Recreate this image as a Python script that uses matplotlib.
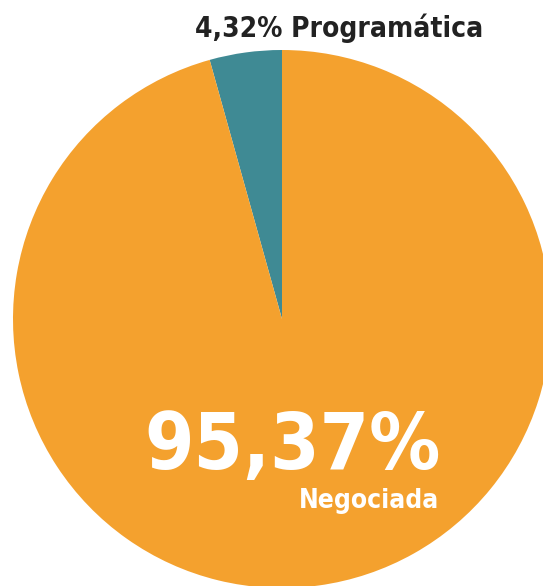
import matplotlib
matplotlib.use('Agg')
from matplotlib import pyplot as plt

# share of media buying by type (%)
labels = ['Programática', 'Negociada']
shares = [4.32, 95.37]
share_text = ['4,32%', '95,37%']
colors = ['#3F8A94', '#F4A12E']

W, H = 543, 586
fig = plt.figure(figsize=(W / 100, H / 100), dpi=100)
ax = fig.add_axes([0, 0, 1, 1])

ax.pie(shares, colors=colors, startangle=90, counterclock=True,
       center=(282, H - 319), radius=269,
       wedgeprops={'linewidth': 0})
ax.set_xlim(0, W)
ax.set_ylim(0, H)
ax.set_aspect('equal')
ax.axis('off')

font = ['DejaVu Sans']
ax.text(339, H - 28, f"{share_text[0]} {labels[0]}", ha='center', va='center',
        fontsize=20.2, fontweight='bold', color='#222222', family=font,
        fontstretch='condensed')
ax.text(441, H - 447, share_text[1], ha='right', va='center',
        fontsize=57, fontweight='bold', color='white', family=font,
        fontstretch='condensed')
ax.text(439, H - 501, labels[1], ha='right', va='center',
        fontsize=19, fontweight='bold', color='white', family=font,
        fontstretch='condensed')

fig.savefig('out.png', dpi=100)
